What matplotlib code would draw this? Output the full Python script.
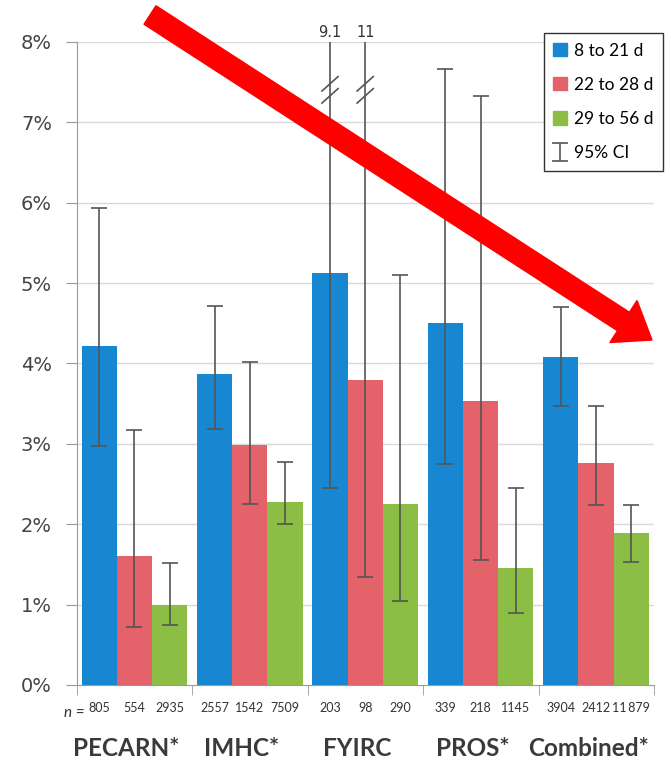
import numpy as np
import matplotlib.pyplot as plt
from matplotlib.patches import Patch, FancyArrow
from matplotlib.transforms import IdentityTransform, blended_transform_factory

plt.rcParams['font.family'] = ['Lato', 'DejaVu Sans']

studies = ["PECARN*", "IMHC*", "FYIRC", "PROS*", "Combined*"]
age_groups = ["8 to 21 d", "22 to 28 d", "29 to 56 d"]
colors = ["#1787d2", "#e4636a", "#8cbe46"]

# bacteremia rate (%) per study and age group
rate_8_21 = [4.22, 3.87, 5.13, 4.50, 4.08]
rate_22_28 = [1.60, 2.98, 3.79, 3.53, 2.76]
rate_29_56 = [1.00, 2.28, 2.25, 1.45, 1.89]

# 95% CI bounds
ci_low_8_21 = [2.97, 3.18, 2.45, 2.75, 3.47]
ci_high_8_21 = [5.94, 4.72, 9.1, 7.67, 4.70]
ci_low_22_28 = [0.72, 2.25, 1.34, 1.55, 2.24]
ci_high_22_28 = [3.17, 4.02, 11.0, 7.33, 3.47]
ci_low_29_56 = [0.75, 2.00, 1.04, 0.90, 1.53]
ci_high_29_56 = [1.52, 2.78, 5.10, 2.45, 2.24]

n_8_21 = ["805", "2557", "203", "339", "3904"]
n_22_28 = ["554", "1542", "98", "218", "2412"]
n_29_56 = ["2935", "7509", "290", "1145", "11\u2009879"]

rates = [rate_8_21, rate_22_28, rate_29_56]
lows = [ci_low_8_21, ci_low_22_28, ci_low_29_56]
highs = [ci_high_8_21, ci_high_22_28, ci_high_29_56]
ns = [n_8_21, n_22_28, n_29_56]

ymax = 8
bar_w = 0.305
offset = 0.04
err_col = "#555555"

fig = plt.figure(figsize=(6.71, 7.61), dpi=100)
ax = fig.add_axes([77/671, 76/761, 577/671, 643/761])

for y in range(1, 9):
    ax.axhline(y, color="#d9d9d9", lw=1, zorder=0)

centers = []
labels = []
for j in range(3):
    xs = np.arange(5) + offset + bar_w * (j + 0.5)
    ax.bar(xs, rates[j], width=bar_w, color=colors[j], label=age_groups[j], zorder=2)
    for i, x in enumerate(xs):
        centers.append(x)
        labels.append(ns[j][i])
        lo, hi = lows[j][i], highs[j][i]
        if hi <= ymax:
            eb = ax.errorbar(x, rates[j][i], yerr=[[rates[j][i] - lo], [hi - rates[j][i]]],
                             fmt="none", ecolor=err_col, elinewidth=1.2, capsize=6,
                             capthick=1.2, zorder=3)
        else:
            # CI runs off the chart: draw to the top with a break mark and the value
            ax.vlines(x, lo, ymax, color=err_col, lw=1.2, zorder=3, clip_on=False)
            ax.plot([x], [lo], marker="_", ms=12, mew=1.2, color=err_col, zorder=3)
            for yb in (7.33, 7.48):
                ax.plot([x - 0.07, x + 0.07], [yb - 0.09, yb + 0.09], color=err_col,
                        lw=1.2, zorder=3)
            ax.text(x, ymax + 0.03, f"{hi:g}", ha="center", va="bottom", fontsize=10.5,
                    color="#333333", family="DejaVu Sans")

ax.set_xlim(0, 5)
ax.set_ylim(0, ymax)
ax.set_yticks(range(0, 9))
ax.set_yticklabels([f"{v}%" for v in range(0, 9)], family="DejaVu Sans", fontsize=14,
                   color="#444444")
ax.tick_params(axis="y", length=8, color="#999999", pad=10)

order = np.argsort(centers)
ax.set_xticks(np.array(centers)[order])
ax.set_xticklabels(np.array(labels)[order], fontsize=9, color="#333333")
ax.tick_params(axis="x", which="major", length=0, pad=12)
ax.set_xticks(np.arange(6), minor=True)
ax.tick_params(axis="x", which="minor", length=7, color="#999999")

for s in ["top", "right"]:
    ax.spines[s].set_visible(False)
for s in ["left", "bottom"]:
    ax.spines[s].set_color("#999999")

trans = blended_transform_factory(ax.transData, ax.transAxes)
ax.text(0.07, -0.043, "n =", transform=trans, ha="right", va="center", fontsize=11,
        color="#333333", fontstyle="italic")
for i, name in enumerate(studies):
    ax.text(i + 0.43, -0.099, name, transform=trans, ha="center", va="center",
            fontsize=17.5, fontweight="bold", color="#3a3a3a")

handles = [Patch(color=c) for c in colors] + [eb]
ax.legend(handles, age_groups + ["95% CI"], loc="upper right",
          bbox_to_anchor=(1.016, 1.014), borderaxespad=0, fontsize=12.5,
          frameon=True, fancybox=False, edgecolor="#333333", framealpha=1,
          handlelength=0.8, handleheight=0.8, handletextpad=0.4, labelspacing=1.05,
          borderpad=0.55)

# big red arrow overlay
x0, y0 = 150, 761 - 15
x1, y1 = 652, 761 - 340
arrow = FancyArrow(x0, y0, x1 - x0, y1 - y0, width=22, head_width=50, head_length=34,
                   length_includes_head=True, color="#ff0000", transform=IdentityTransform(),
                   zorder=10)
fig.add_artist(arrow)

fig.savefig("out.png", dpi=100)
